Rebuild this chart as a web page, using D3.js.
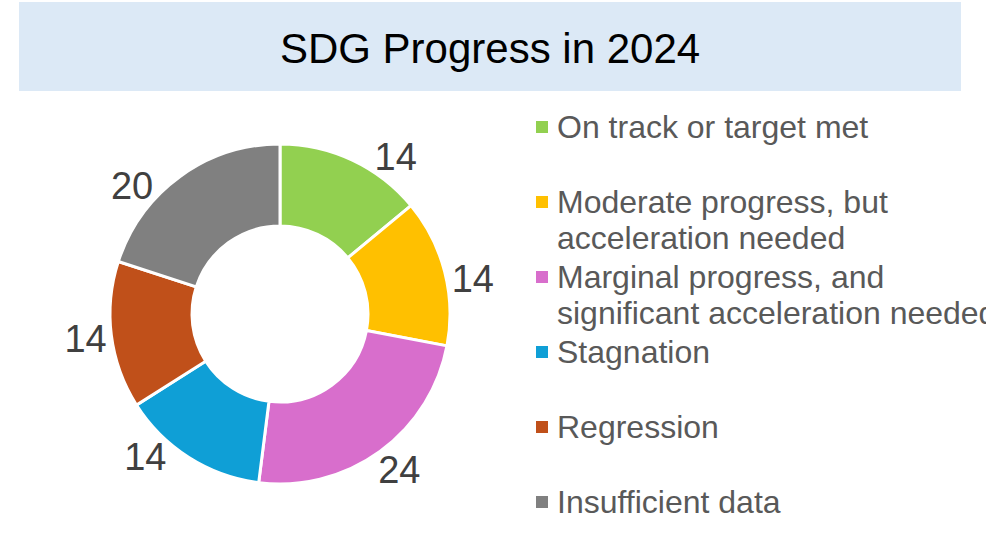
<!DOCTYPE html>
<html>
<head>
<meta charset="utf-8">
<script src="https://cdn.jsdelivr.net/npm/d3@7"></script>
<style>
  body { margin: 0; background: #fff; overflow: hidden; }
  svg { display: block; font-family: "Liberation Sans", Arial, sans-serif; }
</style>
</head>
<body>
<svg width="986" height="541"></svg>
<script>
var categories = [
    "On track or target met",
    "Moderate progress, but|acceleration needed",
    "Marginal progress, and|significant acceleration needed",
    "Stagnation",
    "Regression",
    "Insufficient data"
];
var values = [14, 14, 24, 14, 14, 20];
var colors = ["#92d050", "#ffc000", "#d86ecc", "#0f9fd6", "#c0501a", "#808080"];

var svg = d3.select("svg"), width = +svg.attr("width"),
    height = +svg.attr("height");

// title band
svg.append("rect")
    .attr("x", 19).attr("y", 2)
    .attr("width", 942).attr("height", 89)
    .attr("fill", "#dce9f6");

svg.append("text")
    .attr("x", 490).attr("y", 63)
    .attr("text-anchor", "middle")
    .attr("font-size", 42)
    .attr("fill", "#000")
    .text("SDG Progress in 2024");

// doughnut
var cx = 280, cy = 314, outer = 170, inner = 88;

var pie = d3.pie().sort(null).value(function(d) { return d; });
var arcs = pie(values);

var arc = d3.arc().innerRadius(inner).outerRadius(outer);

// labels were dragged by hand in the original, so shift them a little (degrees)
var nudge = [11, 4, -1.5, 11, 0, -13];
var labelR = 196;

var g = svg.append("g").attr("transform", "translate(" + cx + "," + cy + ")");

g.selectAll("path")
    .data(arcs)
    .enter()
    .append("path")
    .attr("d", arc)
    .attr("fill", function(d, i) { return colors[i]; })
    .attr("stroke", "#fff")
    .attr("stroke-width", 3);

g.selectAll("text.lbl")
    .data(arcs)
    .enter()
    .append("text")
    .attr("class", "lbl")
    .attr("transform", function(d, i) {
        var a = (d.startAngle + d.endAngle) / 2 + nudge[i] * Math.PI / 180;
        return "translate(" + (labelR * Math.sin(a)) + "," + (-labelR * Math.cos(a)) + ")";
    })
    .attr("dy", "0.36em")
    .attr("text-anchor", "middle")
    .attr("font-size", 38)
    .attr("fill", "#404040")
    .text(function(d) { return d.data; });

// legend
var slot = d3.scaleBand().domain(d3.range(categories.length)).range([109, 559]);

var item = svg.append("g")
    .selectAll("g")
    .data(categories)
    .enter()
    .append("g")
    .attr("transform", function(d, i) { return "translate(0," + (slot(i) + 18) + ")"; });

item.append("rect")
    .attr("x", 536).attr("y", -6)
    .attr("width", 12).attr("height", 12)
    .attr("fill", function(d, i) { return colors[i]; });

item.append("text")
    .attr("x", 557)
    .attr("y", 11)
    .attr("font-size", 32)
    .attr("fill", "#595959")
    .selectAll("tspan")
    .data(function(d) { return d.split("|"); })
    .enter()
    .append("tspan")
    .attr("x", 557)
    .attr("dy", function(d, i) { return i ? 36 : 0; })
    .text(function(d) { return d; });
</script>
</body>
</html>
